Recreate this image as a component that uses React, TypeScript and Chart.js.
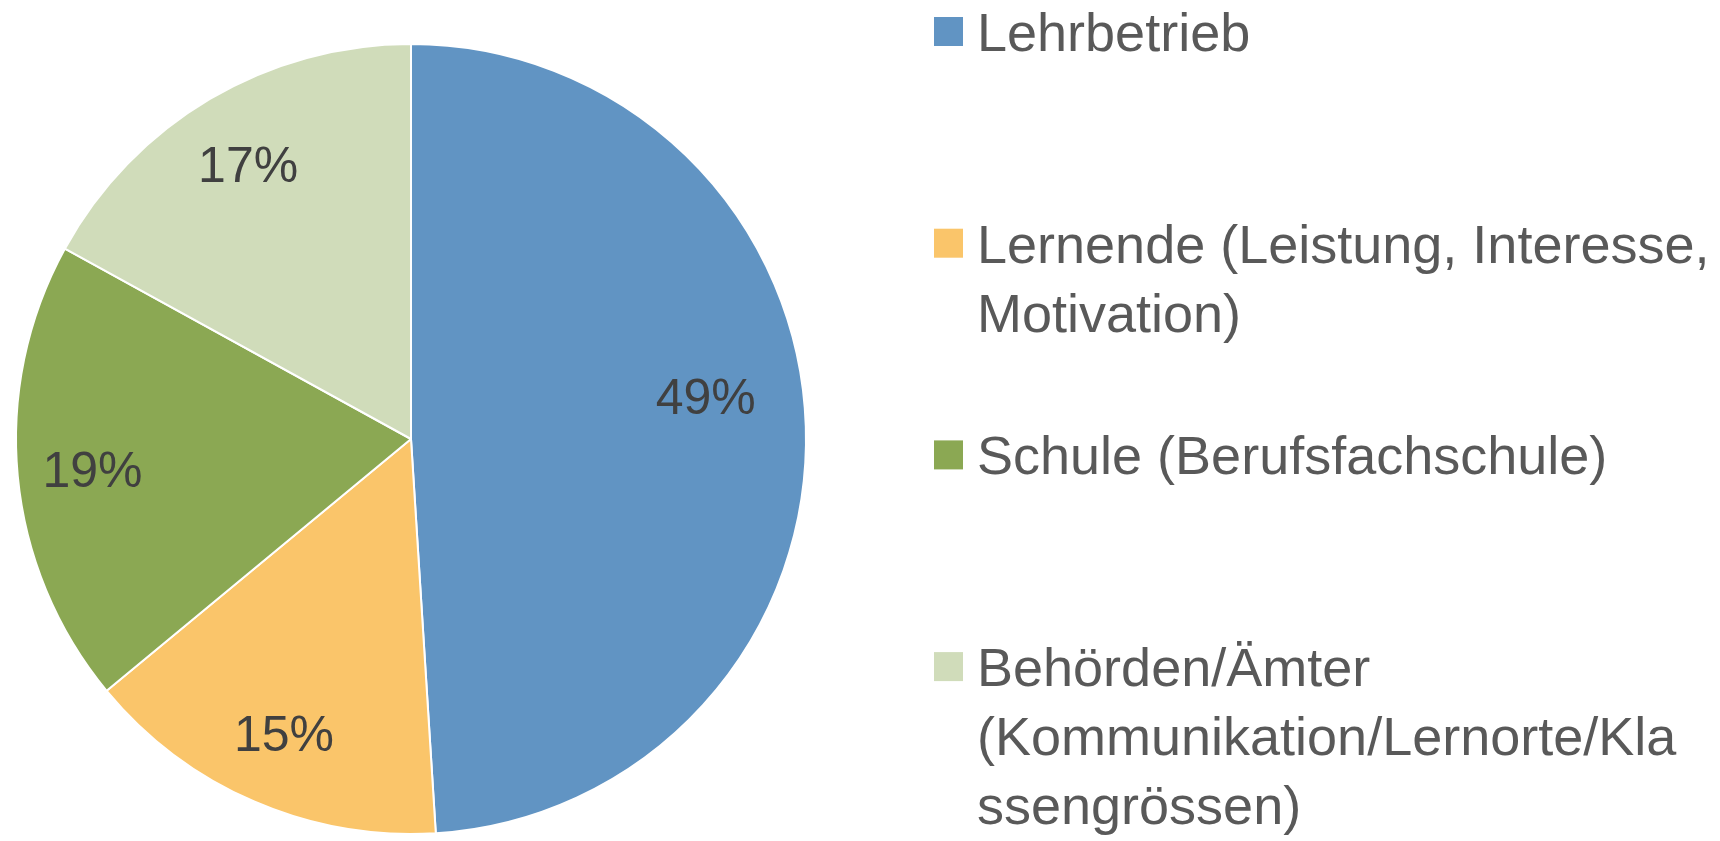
import React, { useEffect, useRef } from 'react';
import { Chart, registerables } from 'chart.js';

Chart.register(...registerables);

const categories = [
  'Lehrbetrieb',
  'Lernende (Leistung, Interesse, Motivation)',
  'Schule (Berufsfachschule)',
  'Behörden/Ämter (Kommunikation/Lernorte/Klassengrössen)',
];
const legendLines = [
  ['Lehrbetrieb'],
  ['Lernende (Leistung, Interesse,', 'Motivation)'],
  ['Schule (Berufsfachschule)'],
  ['Behörden/Ämter', '(Kommunikation/Lernorte/Kla', 'ssengrössen)'],
];
const shares = [49, 15, 19, 17];
const colors = ['#6194C3', '#FAC56A', '#8BA853', '#D0DCBA'];

const FONT = '"Liberation Sans", Arial, sans-serif';

const sliceLabels = {
  id: 'sliceLabels',
  afterDatasetsDraw(chart: any, _args: any, opts: any) {
    const ctx = chart.ctx;
    const meta = chart.getDatasetMeta(0);
    const size = opts.size;
    ctx.save();
    ctx.font = `${size}px ${FONT}`;
    ctx.fillStyle = '#404040';
    ctx.textAlign = 'center';
    ctx.textBaseline = 'alphabetic';
    meta.data.forEach((el: any, i: number) => {
      const p = el.getProps(['x', 'y', 'startAngle', 'endAngle', 'outerRadius'], true);
      const mid = (p.startAngle + p.endAngle) / 2;
      const r = p.outerRadius * opts.radiusFrac;
      const n = opts.nudge[i] || [0, 0];
      const cx = p.x + Math.cos(mid) * r + n[0];
      const cy = p.y + Math.sin(mid) * r + n[1];
      ctx.fillText(`${shares[i]}%`, cx, cy + size * 0.358);
    });
    ctx.restore();
  },
};

const sideLegend = {
  id: 'sideLegend',
  afterDraw(chart: any, _args: any, opts: any) {
    const ctx = chart.ctx;
    ctx.save();
    ctx.font = `${opts.size}px ${FONT}`;
    ctx.textBaseline = 'alphabetic';
    ctx.textAlign = 'left';
    legendLines.forEach((lines, i) => {
      const base = opts.top + i * opts.slot;
      ctx.fillStyle = colors[i];
      ctx.fillRect(opts.boxX, base - 34, opts.box, opts.box);
      ctx.fillStyle = '#595959';
      lines.forEach((line, j) => {
        ctx.fillText(line, opts.textX, base + j * opts.lineHeight);
      });
    });
    ctx.restore();
  },
};

export default function App() {
  const ref = useRef<HTMLCanvasElement | null>(null);
  useEffect(() => {
    document.body.style.margin = '0';
    const canvas = ref.current!;
    const chart = new Chart(canvas, {
      type: 'pie',
      data: {
        labels: categories,
        datasets: [
          {
            data: shares,
            backgroundColor: colors,
            borderColor: '#ffffff',
            borderWidth: 2,
          },
        ],
      },
      options: {
        responsive: false,
        animation: false,
        layout: { padding: { left: 15, top: 43, bottom: 6, right: 913 } },
        plugins: {
          legend: { display: false },
          tooltip: { enabled: false },
          sliceLabels: { size: 50, radiusFrac: 0.81, nudge: [[-25, -33], [0, 0], [0, 0], [0, 0]] },
          sideLegend: { size: 54, top: 51, slot: 211.7, lineHeight: 69, boxX: 934, box: 29, textX: 977 },
        } as any,
      },
      plugins: [sliceLabels, sideLegend],
    });
    return () => chart.destroy();
  }, []);
  return <canvas ref={ref} width={1720} height={841} style={{ display: 'block' }} />;
}
